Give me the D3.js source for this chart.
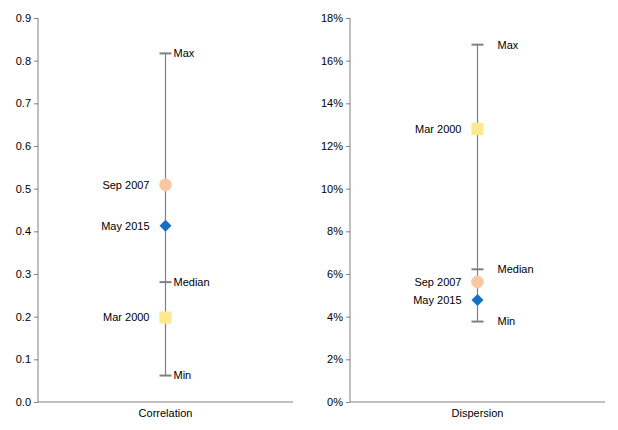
<!DOCTYPE html>
<html>
<head>
<meta charset="utf-8">
<script src="https://cdn.jsdelivr.net/npm/d3@7"></script>
<style>
  body { margin: 0; background: #fff; }
  text { font-family: "Liberation Sans", Arial, sans-serif; font-size: 11px; fill: #000; }
</style>
</head>
<body>
<svg id="chart" width="618" height="430"></svg>
<script>
// summary stats per panel
const panels = ['Correlation', 'Dispersion'];
const statNames = ['Max', 'Median', 'Min'];
const corrStats = [0.817, 0.281, 0.062];
const dispStats = [0.1675, 0.0622, 0.0377];

// highlighted dates
const pointNames = ['Sep 2007', 'May 2015', 'Mar 2000'];
const pointShapes = ['circle', 'diamond', 'square'];
const pointColours = ['#FAC8A0', '#1570C2', '#FFE98F'];
const corrPoints = [0.509, 0.413, 0.198];
const dispPoints = [0.0563, 0.0478, 0.128];

const corrTicks = d3.range(0, 0.91, 0.1);
const dispTicks = d3.range(0, 0.181, 0.02);

const svg = d3.select('#chart');
const grey = '#808080';

const layouts = [
  { name: panels[0], stats: corrStats, pts: corrPoints, max: 0.9, ticks: corrTicks,
    fmt: d3.format('.1f'), left: 38, right: 293, statDx: 8 },
  { name: panels[1], stats: dispStats, pts: dispPoints, max: 0.18, ticks: dispTicks,
    fmt: d3.format('.0%'), left: 350, right: 605, statDx: 20 },
];

const y0 = 402, y1 = 18;

layouts.forEach((p) => {
  const y = d3.scaleLinear().domain([0, p.max]).range([y0, y1]);
  const x = d3.scaleBand().domain([p.name]).range([p.left, p.right]);
  const cx = x(p.name) + x.bandwidth() / 2;
  const g = svg.append('g');

  /* y axis */
  const ya = g.append('g')
    .attr('transform', `translate(${p.left},0)`)
    .call(d3.axisLeft(y).tickValues(p.ticks).tickFormat(p.fmt).tickSize(4).tickPadding(3));
  ya.selectAll('path, line').attr('stroke', grey);
  ya.select('.domain').attr('d', `M0,${y0}V${y1}`);
  ya.selectAll('text').style('font-size', '11px').attr('fill', '#000');

  /* x axis */
  const xa = g.append('g')
    .attr('transform', `translate(0,${y0})`)
    .call(d3.axisBottom(x).tickSize(0).tickPadding(7));
  xa.select('.domain').attr('stroke', grey).attr('d', `M${p.left},0H${p.right}`);
  xa.selectAll('text').style('font-size', '11px').attr('fill', '#000');

  /* range line */
  g.append('line')
    .attr('x1', cx).attr('x2', cx)
    .attr('y1', y(d3.max(p.stats))).attr('y2', y(d3.min(p.stats)))
    .attr('stroke', grey).attr('stroke-width', 1.2);

  g.selectAll('.cap').data(p.stats).enter().append('line')
    .attr('x1', cx - 6).attr('x2', cx + 6)
    .attr('y1', (d) => y(d)).attr('y2', (d) => y(d))
    .attr('stroke', grey).attr('stroke-width', 2);

  g.selectAll('.statlab').data(p.stats).enter().append('text')
    .attr('x', cx + p.statDx).attr('y', (d) => y(d))
    .attr('dy', '0.35em')
    .text((d, i) => statNames[i]);

  /* points - diamond is a square turned 45 degrees */
  const sym = { circle: d3.symbolCircle, diamond: d3.symbolSquare, square: d3.symbolSquare };
  const size = { circle: 125, diamond: 72, square: 150 };
  g.selectAll('.pt').data(p.pts).enter().append('path')
    .attr('transform', (d, i) => `translate(${cx},${y(d)})` + (pointShapes[i] === 'diamond' ? ' rotate(45)' : ''))
    .attr('d', (d, i) => d3.symbol().type(sym[pointShapes[i]]).size(size[pointShapes[i]])())
    .attr('fill', (d, i) => pointColours[i]);

  g.selectAll('.ptlab').data(p.pts).enter().append('text')
    .attr('x', cx - 16).attr('y', (d) => y(d))
    .attr('dy', '0.35em')
    .attr('text-anchor', 'end')
    .text((d, i) => pointNames[i]);
});
</script>
</body>
</html>
